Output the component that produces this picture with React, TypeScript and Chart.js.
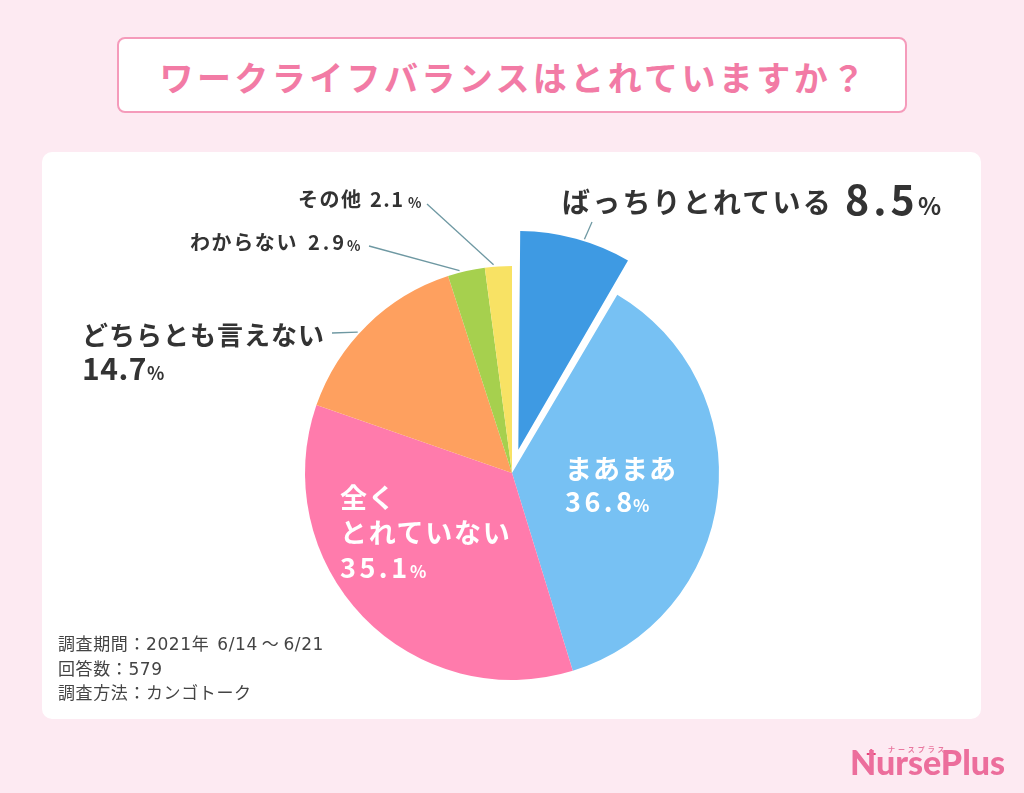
import React, { useEffect, useRef } from "react";
import { Chart, registerables } from "chart.js";

Chart.register(...registerables);

// ---- data ----
const categories = ["ばっちりとれている", "まあまあ", "全くとれていない", "どちらとも言えない", "わからない", "その他"];
const values = [8.5, 36.8, 35.1, 14.7, 2.9, 2.1];
const valueLabels = ["8.5", "36.8", "35.1", "14.7", "2.9", "2.1"];
const sliceColors = ["#3E9AE3", "#77C1F3", "#FF7BAC", "#FEA05F", "#A6D04E", "#F8E264"];
const titleText = "ワークライフバランスはとれていますか？";
const noteLines = ["調査期間：2021年6/14～6/21", "回答数：579", "調査方法：カンゴトーク"];

// ---- layout ----
const FONT = '"Noto Sans CJK JP", "Noto Sans", sans-serif';
const NOTE_FONT = '"DejaVu Sans", "Noto Sans CJK JP", sans-serif';
// Chart.js ArcElement moves a slice by offset/4 pixels
const explodePx = [24, 0, 0, 0, 0, 0];
const sliceOffsets = explodePx.map((p) => p * 4);

const leaders = [
  { index: 0, from: [592, 222], frac: 0.57 },
  { index: 5, from: [427, 204], frac: 0.33 },
  { index: 4, from: [369, 246], frac: 0.33 },
  { index: 3, from: [332, 333], frac: 0.44 },
];

const leaderPlugin = {
  id: "leaders",
  beforeDatasetsDraw(chart: any) {
    const meta = chart.getDatasetMeta(0);
    const ctx = chart.ctx;
    ctx.save();
    ctx.strokeStyle = "#6E98A2";
    ctx.lineWidth = 1.3;
    leaders.forEach(({ index, from, frac }) => {
      const arc: any = meta.data[index];
      if (!arc) return;
      const p = arc.getProps(["x", "y", "startAngle", "endAngle", "outerRadius"], true);
      const a = p.startAngle + (p.endAngle - p.startAngle) * frac;
      const mid = (p.startAngle + p.endAngle) / 2;
      const off = (arc.options.offset || 0) / 4;
      const circ = p.endAngle - p.startAngle;
      const fix = 1 - Math.sin(Math.min(Math.PI, circ));
      const cx = p.x + Math.cos(mid) * off;
      const cy = p.y + Math.sin(mid) * off;
      const r = p.outerRadius + off * fix + 2;
      ctx.beginPath();
      ctx.moveTo(from[0], from[1]);
      ctx.lineTo(cx + Math.cos(a) * r, cy + Math.sin(a) * r);
      ctx.stroke();
    });
    ctx.restore();
  },
};

type TP = {
  x: number;
  base: number;
  size: number;
  text: React.ReactNode;
  color?: string;
  weight?: number;
  ls?: number;
  family?: string;
};

function T({ x, base, size, text, color = "#333333", weight = 700, ls = 0, family = FONT }: TP) {
  return (
    <div
      style={{
        position: "absolute",
        left: x,
        top: base - 0.936 * size,
        fontSize: size,
        lineHeight: `${size}px`,
        fontFamily: family,
        fontWeight: weight,
        color,
        letterSpacing: ls,
        whiteSpace: "nowrap",
      }}
    >
      {text}
    </div>
  );
}

export default function App() {
  const canvasRef = useRef<HTMLCanvasElement | null>(null);

  useEffect(() => {
    const canvas = canvasRef.current;
    if (!canvas) return;
    const chart = new Chart(canvas, {
      type: "pie",
      data: {
        labels: categories,
        datasets: [
          {
            data: values,
            backgroundColor: sliceColors,
            offset: sliceOffsets,
            borderWidth: 0,
          },
        ],
      },
      options: {
        responsive: false,
        animation: false,
        radius: 207,
        layout: { padding: { top: 153, bottom: 0, left: 0, right: 0 } },
        plugins: {
          legend: { display: false },
          tooltip: { enabled: false },
          title: { display: false },
        },
      } as any,
      plugins: [leaderPlugin],
    });
    return () => chart.destroy();
  }, []);

  const note0 = noteLines[0];
  const i1 = note0.indexOf("年") + 1;
  const i2 = note0.indexOf("～");
  const noteFirst = (
    <>
      <span>{note0.slice(0, i1)}</span>
      <span style={{ marginLeft: 8 }}>{note0.slice(i1, i2)}</span>
      <span style={{ marginLeft: 4 }}>{note0.slice(i2, i2 + 1)}</span>
      <span style={{ marginLeft: 4 }}>{note0.slice(i2 + 1)}</span>
    </>
  );

  return (
    <div
      style={{
        position: "fixed",
        left: 0,
        top: 0,
        width: 1024,
        height: 793,
        background: "#FDEAF2",
        overflow: "hidden",
        fontFamily: FONT,
      }}
    >
      {/* title box */}
      <div
        style={{
          position: "absolute",
          left: 117,
          top: 37,
          width: 786,
          height: 72,
          background: "#ffffff",
          border: "2px solid #F59BBB",
          borderRadius: 8,
        }}
      />
      <div
        style={{
          position: "absolute",
          left: 117,
          top: 37,
          width: 790,
          height: 76,
          display: "flex",
          alignItems: "center",
          justifyContent: "center",
          fontSize: 34,
          fontWeight: 700,
          color: "#F27BA5",
          letterSpacing: 3.4,
          fontFamily: FONT,
          paddingTop: 2,
          paddingLeft: 4,
          boxSizing: "border-box",
        }}
      >
        {titleText}
      </div>

      {/* card */}
      <div
        style={{
          position: "absolute",
          left: 42,
          top: 152,
          width: 939,
          height: 567,
          background: "#ffffff",
          borderRadius: 10,
        }}
      />

      <canvas
        ref={canvasRef}
        width={1024}
        height={793}
        style={{ position: "absolute", left: 0, top: 0, width: 1024, height: 793 }}
      />

      {/* slice labels */}
      <T x={562} base={213} size={28} ls={2.2} text={categories[0]} />
      <T x={845} base={215} size={41} ls={4} text={valueLabels[0]} />
      <T x={918} base={215} size={24} text="%" />

      <T x={298} base={208} size={20} ls={1.5} text={categories[5]} />
      <T x={370} base={208} size={20} ls={1.5} text={valueLabels[5]} />
      <T x={408} base={208} size={14} text="%" />

      <T x={190} base={251} size={20} ls={1.6} text={categories[4]} />
      <T x={308} base={251} size={20} ls={3} text={valueLabels[4]} />
      <T x={347} base={251} size={14} text="%" />

      <T x={82} base={345} size={26} ls={1} text={categories[3]} />
      <T x={82} base={380} size={30} ls={0.5} text={valueLabels[3]} />
      <T x={147} base={380} size={18} text="%" />

      <T x={565} base={479} size={27} ls={1} color="#ffffff" text={categories[1]} />
      <T x={565} base={512} size={27} ls={3.5} color="#ffffff" text={valueLabels[1]} />
      <T x={633} base={512} size={17} color="#ffffff" text="%" />

      <T x={340} base={508} size={27} ls={1} color="#ffffff" text="全く" />
      <T x={340} base={543} size={27} ls={1.7} color="#ffffff" text="とれていない" />
      <T x={340} base={578} size={27} ls={3.5} color="#ffffff" text={valueLabels[2]} />
      <T x={410} base={578} size={17} color="#ffffff" text="%" />

      {/* notes */}
      <T x={58} base={652} size={17} weight={400} ls={0.6} color="#444444" family={NOTE_FONT} text={noteFirst} />
      {noteLines.slice(1).map((line, i) => (
        <T
          key={i}
          x={58}
          base={652 + (i + 1) * 24.5}
          size={17}
          weight={400}
          ls={0.6}
          color="#444444"
          family={NOTE_FONT}
          text={line}
        />
      ))}

      {/* logo */}
      <T x={888} base={753} size={7} weight={700} ls={3} color="#E9779F" text="ナースプラス" />
      <T x={866} base={762} size={18} weight={900} color="#E84379" family="Lato, sans-serif" text="+" />
      <T x={850} base={777} size={34} weight={900} color="#EC6E9C" family="Lato, sans-serif" text="NursePlus" />
    </div>
  );
}
